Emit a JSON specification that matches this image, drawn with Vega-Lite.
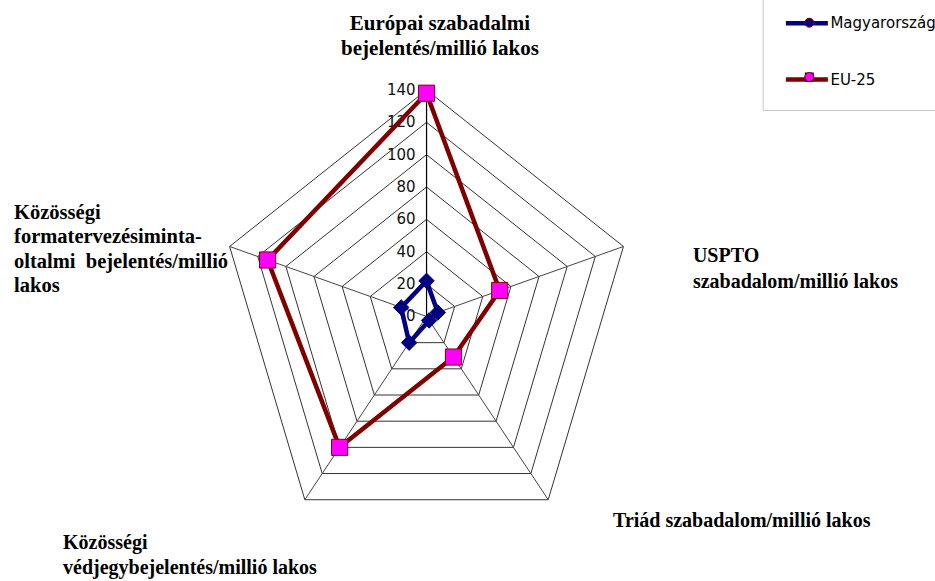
{
  "$schema": "https://vega.github.io/schema/vega-lite/v6.json",
  "width": 935,
  "height": 581,
  "padding": 0,
  "autosize": {"type": "none"},
  "background": "white",
  "config": {"view": {"stroke": null}},
  "datasets": {
    "series": [
      {"series": "Magyarország", "k": 0, "value": 22},
      {"series": "Magyarország", "k": 1, "value": 8},
      {"series": "Magyarország", "k": 2, "value": 3},
      {"series": "Magyarország", "k": 3, "value": 20},
      {"series": "Magyarország", "k": 4, "value": 18},
      {"series": "Magyarország", "k": 5, "value": 22},
      {"series": "EU-25", "k": 0, "value": 138},
      {"series": "EU-25", "k": 1, "value": 52},
      {"series": "EU-25", "k": 2, "value": 31},
      {"series": "EU-25", "k": 3, "value": 100},
      {"series": "EU-25", "k": 4, "value": 113},
      {"series": "EU-25", "k": 5, "value": 138}
    ],
    "rings": [
      {"r": 20, "k": [0, 1, 2, 3, 4, 5]},
      {"r": 40, "k": [0, 1, 2, 3, 4, 5]},
      {"r": 60, "k": [0, 1, 2, 3, 4, 5]},
      {"r": 80, "k": [0, 1, 2, 3, 4, 5]},
      {"r": 100, "k": [0, 1, 2, 3, 4, 5]},
      {"r": 120, "k": [0, 1, 2, 3, 4, 5]},
      {"r": 140, "k": [0, 1, 2, 3, 4, 5]}
    ],
    "spokes": [
      {"k": 0, "r": [0, 140]},
      {"k": 1, "r": [0, 140]},
      {"k": 2, "r": [0, 140]},
      {"k": 3, "r": [0, 140]},
      {"k": 4, "r": [0, 140]}
    ],
    "ticks": [
      {"r": 0}, {"r": 20}, {"r": 40}, {"r": 60}, {"r": 80}, {"r": 100}, {"r": 120}, {"r": 140}
    ],
    "axes": [
      {"k": 0, "name": ["Európai szabadalmi", "bejelentés/millió lakos"]},
      {"k": 1, "name": ["USPTO", "szabadalom/millió lakos"]},
      {"k": 2, "name": ["Triád szabadalom/millió lakos"]},
      {"k": 3, "name": ["Közösségi", "védjegybejelentés/millió lakos"]},
      {"k": 4, "name": ["Közösségi", "formatervezésiminta-", "oltalmi\u00a0 bejelentés/millió", "lakos"]}
    ]
  },
  "layer": [
    {
      "data": {"name": "rings"},
      "transform": [
        {"flatten": ["k"]},
        {"calculate": "PI/2 - datum.k*2*PI/5", "as": "a"},
        {"calculate": "datum.r*cos(datum.a)", "as": "x"},
        {"calculate": "datum.r*sin(datum.a)", "as": "y"}
      ],
      "mark": {"type": "line", "stroke": "#333333", "strokeWidth": 1},
      "encoding": {
        "x": {"field": "x", "type": "quantitative", "scale": {"domain": [-288.4, 343.8], "nice": false, "zero": false}, "axis": null},
        "y": {"field": "y", "type": "quantitative", "scale": {"domain": [-163.5, 195.6], "nice": false, "zero": false}, "axis": null},
        "detail": {"field": "r", "type": "nominal"},
        "order": {"field": "k", "type": "quantitative"}
      }
    },
    {
      "data": {"name": "spokes"},
      "transform": [
        {"flatten": ["r"]},
        {"calculate": "PI/2 - datum.k*2*PI/5", "as": "a"},
        {"calculate": "datum.r*cos(datum.a)", "as": "x"},
        {"calculate": "datum.r*sin(datum.a)", "as": "y"}
      ],
      "mark": {"type": "line", "stroke": "#444444", "strokeWidth": 1},
      "encoding": {
        "x": {"field": "x", "type": "quantitative", "scale": {"domain": [-288.4, 343.8], "nice": false, "zero": false}, "axis": null},
        "y": {"field": "y", "type": "quantitative", "scale": {"domain": [-163.5, 195.6], "nice": false, "zero": false}, "axis": null},
        "detail": {"field": "k", "type": "nominal"},
        "order": {"field": "r", "type": "quantitative"}
      }
    },
    {
      "data": {"name": "spokes"},
      "transform": [
        {"filter": "datum.k == 0"},
        {"flatten": ["r"]},
        {"calculate": "PI/2 - datum.k*2*PI/5", "as": "a"},
        {"calculate": "datum.r*cos(datum.a)", "as": "x"},
        {"calculate": "datum.r*sin(datum.a)", "as": "y"}
      ],
      "mark": {"type": "line", "stroke": "#000000", "strokeWidth": 1.2},
      "encoding": {
        "x": {"field": "x", "type": "quantitative", "scale": {"domain": [-288.4, 343.8], "nice": false, "zero": false}, "axis": null},
        "y": {"field": "y", "type": "quantitative", "scale": {"domain": [-163.5, 195.6], "nice": false, "zero": false}, "axis": null},
        "order": {"field": "r", "type": "quantitative"}
      }
    },
    {
      "data": {"name": "ticks"},
      "transform": [
        {"calculate": "datum.r*cos(PI/2)", "as": "x"},
        {"calculate": "datum.r*sin(PI/2)", "as": "y"}
      ],
      "mark": {"type": "text", "align": "right", "baseline": "middle", "dx": -11, "font": "DejaVu Sans", "fontSize": 15, "fill": "#111111"},
      "encoding": {
        "x": {"field": "x", "type": "quantitative", "scale": {"domain": [-288.4, 343.8], "nice": false, "zero": false}, "axis": null},
        "y": {"field": "y", "type": "quantitative", "scale": {"domain": [-163.5, 195.6], "nice": false, "zero": false}, "axis": null},
        "text": {"field": "r", "type": "quantitative"}
      }
    },
    {
      "data": {"name": "series"},
      "transform": [
        {"calculate": "PI/2 - datum.k*2*PI/5", "as": "a"},
        {"calculate": "datum.value*cos(datum.a)", "as": "x"},
        {"calculate": "datum.value*sin(datum.a)", "as": "y"}
      ],
      "mark": {"type": "line", "strokeWidth": 4.5, "strokeJoin": "round"},
      "encoding": {
        "x": {"field": "x", "type": "quantitative", "scale": {"domain": [-288.4, 343.8], "nice": false, "zero": false}, "axis": null},
        "y": {"field": "y", "type": "quantitative", "scale": {"domain": [-163.5, 195.6], "nice": false, "zero": false}, "axis": null},
        "order": {"field": "k", "type": "quantitative"},
        "stroke": {
          "field": "series",
          "type": "nominal",
          "scale": {"domain": ["Magyarország", "EU-25"], "range": ["#000080", "#800000"]},
          "legend": {
            "orient": "none",
            "legendX": 762.7,
            "legendY": -21,
            "title": null,
            "symbolType": "stroke",
            "symbolSize": 1764,
            "symbolStrokeWidth": 4.5,
            "symbolOffset": 0,
            "labelOffset": 0,
            "labelFont": "DejaVu Sans",
            "labelFontSize": 15,
            "labelColor": "#000000",
            "labelLimit": 300,
            "padding": 20.7,
            "rowPadding": 23.3,
            "strokeColor": "#c8c8c8"
          }
        }
      }
    },
    {
      "data": {"name": "series"},
      "transform": [
        {"filter": "datum.k < 5 && datum.series == 'Magyarország'"},
        {"calculate": "datum.series", "as": "s2"},
        {"calculate": "PI/2 - datum.k*2*PI/5", "as": "a"},
        {"calculate": "datum.value*cos(datum.a)", "as": "x"},
        {"calculate": "datum.value*sin(datum.a)", "as": "y"}
      ],
      "mark": {"type": "point", "filled": true, "opacity": 1, "size": 240, "stroke": "#000080", "strokeWidth": 1},
      "encoding": {
        "x": {"field": "x", "type": "quantitative", "scale": {"domain": [-288.4, 343.8], "nice": false, "zero": false}, "axis": null},
        "y": {"field": "y", "type": "quantitative", "scale": {"domain": [-163.5, 195.6], "nice": false, "zero": false}, "axis": null},
        "shape": {
          "field": "s2",
          "type": "nominal",
          "sort": ["Magyarország", "EU-25"],
          "scale": {"range": ["diamond", "square"]},
          "legend": {
            "orient": "none",
            "legendX": 801.8,
            "legendY": 15.2,
            "title": null,
            "symbolSize": 80,
            "symbolStrokeWidth": 1,
            "symbolStrokeColor": "#800000",
            "labelExpr": "''",
            "labelFontSize": 15,
            "padding": 0,
            "rowPadding": 38.3
          }
        },
        "fill": {
          "field": "s2",
          "type": "nominal",
          "sort": ["Magyarország", "EU-25"],
          "scale": {"range": ["#000080", "#FF00FF"]},
          "legend": {
            "orient": "none",
            "legendX": 801.8,
            "legendY": 15.2,
            "title": null,
            "symbolSize": 80,
            "symbolStrokeWidth": 1,
            "symbolStrokeColor": "#800000",
            "labelExpr": "''",
            "labelFontSize": 15,
            "padding": 0,
            "rowPadding": 38.3
          }
        }
      }
    },
    {
      "data": {"name": "series"},
      "transform": [
        {"filter": "datum.k < 5 && datum.series == 'EU-25'"},
        {"calculate": "datum.series", "as": "s2"},
        {"calculate": "PI/2 - datum.k*2*PI/5", "as": "a"},
        {"calculate": "datum.value*cos(datum.a)", "as": "x"},
        {"calculate": "datum.value*sin(datum.a)", "as": "y"}
      ],
      "mark": {"type": "point", "filled": true, "opacity": 1, "size": 260, "stroke": "#800000", "strokeWidth": 1},
      "encoding": {
        "x": {"field": "x", "type": "quantitative", "scale": {"domain": [-288.4, 343.8], "nice": false, "zero": false}, "axis": null},
        "y": {"field": "y", "type": "quantitative", "scale": {"domain": [-163.5, 195.6], "nice": false, "zero": false}, "axis": null},
        "shape": {"field": "s2", "type": "nominal", "sort": ["Magyarország", "EU-25"]},
        "fill": {"field": "s2", "type": "nominal", "sort": ["Magyarország", "EU-25"]}
      }
    },
    {
      "data": {"name": "axes"},
      "transform": [{"filter": "datum.k == 0"}],
      "mark": {"type": "text", "align": "center", "baseline": "middle", "font": "Liberation Serif", "fontWeight": "bold", "fontSize": 21, "lineHeight": 25, "fill": "#000000"},
      "encoding": {
        "x": {"datum": 9.1, "type": "quantitative"},
        "y": {"datum": 180.8, "type": "quantitative"},
        "text": {"field": "name", "type": "nominal"}
      }
    },
    {
      "data": {"name": "axes"},
      "transform": [{"filter": "datum.k == 1"}],
      "mark": {"type": "text", "align": "left", "baseline": "middle", "font": "Liberation Serif", "fontWeight": "bold", "fontSize": 20, "lineHeight": 26.5, "fill": "#000000"},
      "encoding": {
        "x": {"datum": 180.1, "type": "quantitative"},
        "y": {"datum": 37.4, "type": "quantitative"},
        "text": {"field": "name", "type": "nominal"}
      }
    },
    {
      "data": {"name": "axes"},
      "transform": [{"filter": "datum.k == 2"}],
      "mark": {"type": "text", "align": "left", "baseline": "middle", "font": "Liberation Serif", "fontWeight": "bold", "fontSize": 20, "lineHeight": 24, "fill": "#000000"},
      "encoding": {
        "x": {"datum": 126.1, "type": "quantitative"},
        "y": {"datum": -126.4, "type": "quantitative"},
        "text": {"field": "name", "type": "nominal"}
      }
    },
    {
      "data": {"name": "axes"},
      "transform": [{"filter": "datum.k == 3"}],
      "mark": {"type": "text", "align": "left", "baseline": "middle", "font": "Liberation Serif", "fontWeight": "bold", "fontSize": 20, "lineHeight": 25, "fill": "#000000"},
      "encoding": {
        "x": {"datum": -245.8, "type": "quantitative"},
        "y": {"datum": -140, "type": "quantitative"},
        "text": {"field": "name", "type": "nominal"}
      }
    },
    {
      "data": {"name": "axes"},
      "transform": [{"filter": "datum.k == 4"}],
      "mark": {"type": "text", "align": "left", "baseline": "middle", "font": "Liberation Serif", "fontWeight": "bold", "fontSize": 20.5, "lineHeight": 24.5, "fill": "#000000"},
      "encoding": {
        "x": {"datum": -278.9, "type": "quantitative"},
        "y": {"datum": 64.0, "type": "quantitative"},
        "text": {"field": "name", "type": "nominal"}
      }
    }
  ]
}
